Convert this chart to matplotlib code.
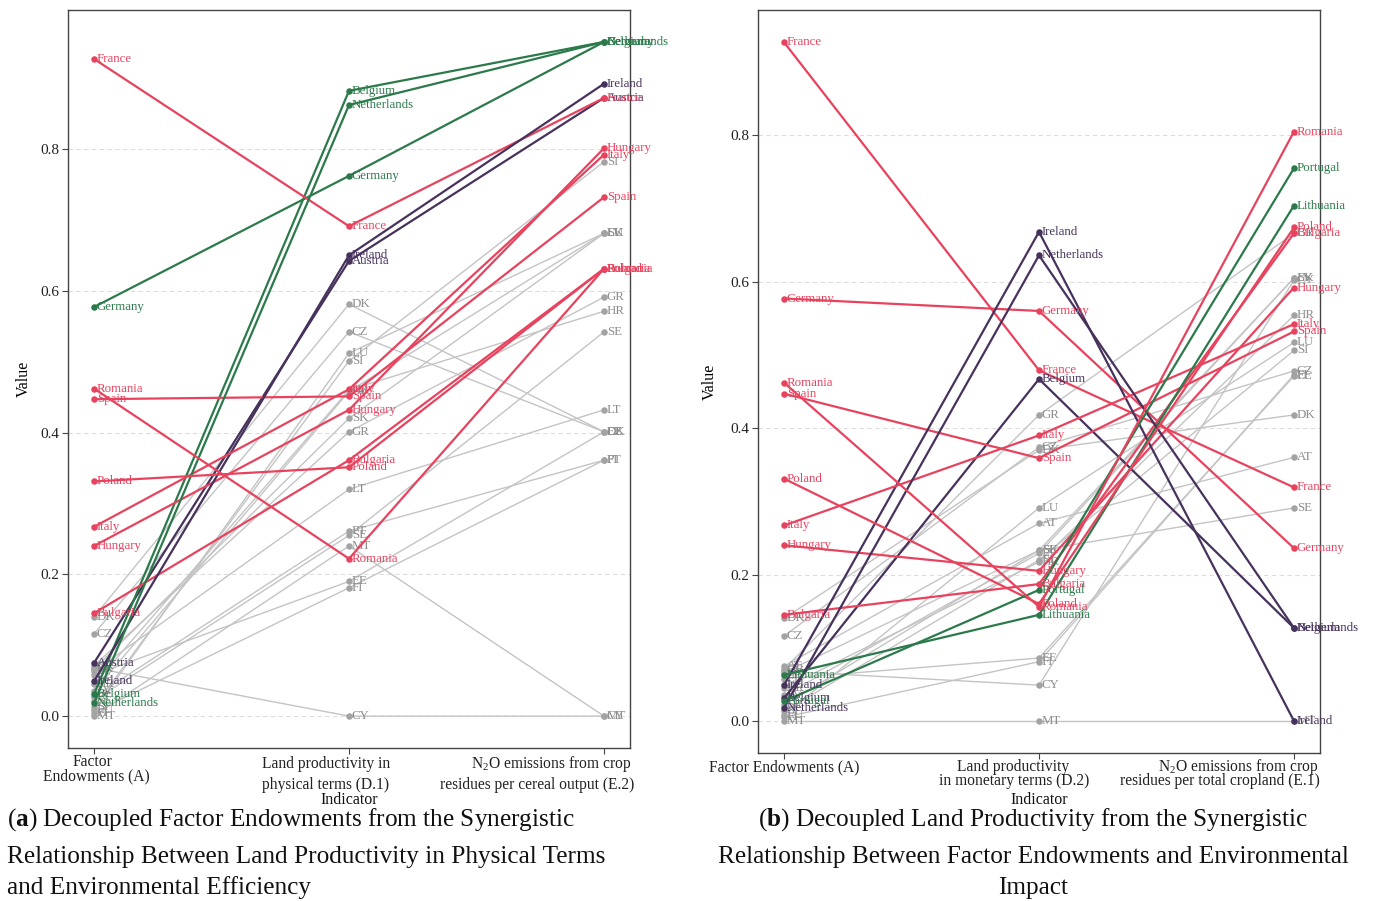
import matplotlib
matplotlib.use("Agg")
import matplotlib.pyplot as plt

plt.rcParams['font.family'] = ['Liberation Serif', 'DejaVu Serif']
plt.rcParams['mathtext.fontset'] = 'custom'
plt.rcParams['mathtext.rm'] = 'Liberation Serif'
plt.rcParams['mathtext.it'] = 'Liberation Serif:italic'
plt.rcParams['mathtext.bf'] = 'Liberation Serif:bold'

# ---------------- data ----------------
countries = ["AT", "BE", "BG", "CY", "CZ", "DE", "DK", "EE", "ES", "FI", "FR", "GR", "HR", "HU",
             "IE", "IT", "LT", "LU", "LV", "MT", "NL", "PL", "PT", "RO", "SE", "SI", "SK"]
full_names = {"AT": "Austria", "BE": "Belgium", "BG": "Bulgaria", "DE": "Germany", "ES": "Spain",
              "FR": "France", "HU": "Hungary", "IE": "Ireland", "IT": "Italy", "LT": "Lithuania",
              "NL": "Netherlands", "PL": "Poland", "PT": "Portugal", "RO": "Romania"}

factor_endowments_A = [0.075, 0.031, 0.145, 0.068, 0.116, 0.577, 0.140, 0.058, 0.447, 0.005, 0.927, 0.071, 0.045, 0.240,
                       0.049, 0.267, 0.063, 0.008, 0.035, 0.000, 0.018, 0.331, 0.027, 0.462, 0.022, 0.013, 0.066]
land_prod_physical_D1 = [0.642, 0.882, 0.361, 0.000, 0.542, 0.762, 0.581, 0.190, 0.451, 0.181, 0.691, 0.401, 0.460, 0.432,
                         0.650, 0.461, 0.320, 0.512, 0.458, 0.240, 0.862, 0.351, 0.261, 0.222, 0.255, 0.501, 0.420]
n2o_per_cereal_E2 = [0.872, 0.951, 0.631, 0.000, 0.401, 0.951, 0.401, 0.401, 0.732, 0.361, 0.872, 0.591, 0.571, 0.801,
                     0.892, 0.792, 0.432, 0.681, 0.681, 0.000, 0.951, 0.631, 0.361, 0.631, 0.542, 0.782, 0.681]
land_prod_monetary_D2 = [0.270, 0.467, 0.187, 0.049, 0.374, 0.560, 0.370, 0.086, 0.359, 0.081, 0.479, 0.418, 0.217, 0.205,
                         0.668, 0.390, 0.145, 0.291, 0.229, 0.000, 0.636, 0.160, 0.179, 0.156, 0.233, 0.220, 0.233]
n2o_per_cropland_E1 = [0.360, 0.127, 0.666, 0.602, 0.478, 0.236, 0.418, 0.471, 0.532, 0.473, 0.319, 0.666, 0.554, 0.592,
                       0.000, 0.542, 0.704, 0.517, 0.605, 0.000, 0.127, 0.674, 0.755, 0.805, 0.291, 0.506, 0.605]

left_red = ["FR", "RO", "ES", "PL", "IT", "HU", "BG"]
left_green = ["DE", "BE", "NL"]
left_purple = ["AT", "IE"]
right_red = ["FR", "DE", "RO", "ES", "PL", "IT", "HU", "BG"]
right_green = ["PT", "LT"]
right_purple = ["IE", "NL", "BE"]

left_ticklabels = ["Factor\nEndowments (A)", "Land productivity in\nphysical terms (D.1)",
                   "N$_2$O emissions from crop\nresidues per cereal output (E.2)"]
right_ticklabels = ["Factor Endowments (A)", "Land productivity\nin monetary terms (D.2)",
                    "N$_2$O emissions from crop\nresidues per total cropland (E.1)"]

RED = "#E8435E"
GREEN = "#2C7A4B"
PURPLE = "#46325C"
GREY_LINE = "#C4C4C4"
GREY_PT = "#A3A3A3"
GREY_TXT = "#8E8E8E"

W, H = 1375, 901
fig = plt.figure(figsize=(W / 100, H / 100), dpi=100)


def ftext(x, y, s, **kw):
    """Place text at figure pixel coordinates (origin top-left)."""
    return fig.text(x / W, 1 - y / H, s, **kw)


def draw_panel(ax, series, red, green, purple, ylim, ylab_x):
    cmap = {}
    for c in red:
        cmap[c] = RED
    for c in green:
        cmap[c] = GREEN
    for c in purple:
        cmap[c] = PURPLE
    xs = [0, 1, 2]
    order = [c for c in countries if c not in cmap] + [c for c in countries if c in cmap]
    for c in order:
        i = countries.index(c)
        ys = [s[i] for s in series]
        hl = c in cmap
        lc = cmap.get(c, GREY_LINE)
        pc = cmap.get(c, GREY_PT)
        tc = cmap.get(c, GREY_TXT)
        z = 3 if hl else 1
        ax.plot(xs, ys, color=lc, lw=1.6 if hl else 1.0, zorder=z, solid_capstyle='round')
        ax.scatter(xs, ys, s=22, color=pc, zorder=z + 0.5, linewidths=0)
        name = full_names[c] if hl else c
        for x, y in zip(xs, ys):
            ax.annotate(name, (x, y), xytext=(2, 0), textcoords='offset points',
                        ha='left', va='center', fontsize=9.3, color=tc, zorder=z + 1)
    ax.set_xlim(-0.102, 2.102)
    ax.set_ylim(*ylim)
    ax.set_xticks(xs)
    ax.set_xticklabels(["", "", ""])
    ax.set_yticks([0.0, 0.2, 0.4, 0.6, 0.8])
    ax.set_yticklabels(["0.0", "0.2", "0.4", "0.6", "0.8"], fontsize=11)
    ax.yaxis.grid(True, linestyle=(0, (4, 3)), color="#DDDDDD", lw=0.8, zorder=0)
    ax.xaxis.grid(False)
    ax.set_axisbelow(True)
    for sp in ax.spines.values():
        sp.set_color("#444444")
        sp.set_linewidth(1.0)
    ax.tick_params(axis='both', length=4, width=0.8, color="#444444", labelcolor="#222222", pad=2)
    ax.set_ylabel("Value", fontsize=11.5)
    ax.yaxis.set_label_coords(ylab_x, 0.5)


axL = fig.add_axes([68 / W, 1 - 748 / H, 562 / W, 738 / H])
axR = fig.add_axes([758 / W, 1 - 753 / H, 562 / W, 743 / H])

draw_panel(axL, [factor_endowments_A, land_prod_physical_D1, n2o_per_cereal_E2],
           left_red, left_green, left_purple, (-0.045, 0.996), (32 - 68) / 562)
draw_panel(axR, [factor_endowments_A, land_prod_monetary_D2, n2o_per_cropland_E1],
           right_red, right_green, right_purple, (-0.0437, 0.971), (718 - 758) / 562)

# x-axis category labels (placed like the reference)
tick_fs = 11.2
l1 = left_ticklabels[0].split("\n")
ftext(92, 762, l1[0], ha='center', va='center', fontsize=tick_fs, color="#222222")
ftext(96, 776, l1[1], ha='center', va='center', fontsize=tick_fs, color="#222222")
l2 = left_ticklabels[1].split("\n")
ftext(326, 764, l2[0], ha='center', va='center', fontsize=tick_fs, color="#222222")
ftext(326, 785, l2[1], ha='center', va='center', fontsize=tick_fs, color="#222222")
l3 = left_ticklabels[2].split("\n")
ftext(631, 764, l3[0], ha='right', va='center', fontsize=tick_fs, color="#222222")
ftext(634, 785, l3[1], ha='right', va='center', fontsize=tick_fs, color="#222222")
ftext(349, 800, "Indicator", ha='center', va='center', fontsize=11.5, color="#111111")

ftext(784, 767, right_ticklabels[0], ha='center', va='center', fontsize=tick_fs, color="#222222")
r2 = right_ticklabels[1].split("\n")
ftext(1013, 767, r2[0], ha='center', va='center', fontsize=tick_fs, color="#222222")
ftext(1014, 781, r2[1], ha='center', va='center', fontsize=tick_fs, color="#222222")
r3 = right_ticklabels[2].split("\n")
ftext(1318, 767, r3[0], ha='right', va='center', fontsize=tick_fs, color="#222222")
ftext(1320, 781, r3[1], ha='right', va='center', fontsize=tick_fs, color="#222222")
ftext(1039, 800, "Indicator", ha='center', va='center', fontsize=11.5, color="#111111")

cap_fs = 18.2
left_caption = ["($\\mathbf{a}$) Decoupled Factor Endowments from the Synergistic",
                "Relationship Between Land Productivity in Physical Terms",
                "and Environmental Efficiency"]
right_caption = ["($\\mathbf{b}$) Decoupled Land Productivity from the Synergistic",
                 "Relationship Between Factor Endowments and Environmental",
                 "Impact"]
cap_y = [820, 857, 888]
for t, y in zip(left_caption, cap_y):
    ftext(7, y, t, ha='left', va='center', fontsize=cap_fs, color="#111111")
for t, y in zip(right_caption, cap_y):
    ftext(1033, y, t, ha='center', va='center', fontsize=cap_fs, color="#111111")

fig.savefig("out.png", dpi=100)
